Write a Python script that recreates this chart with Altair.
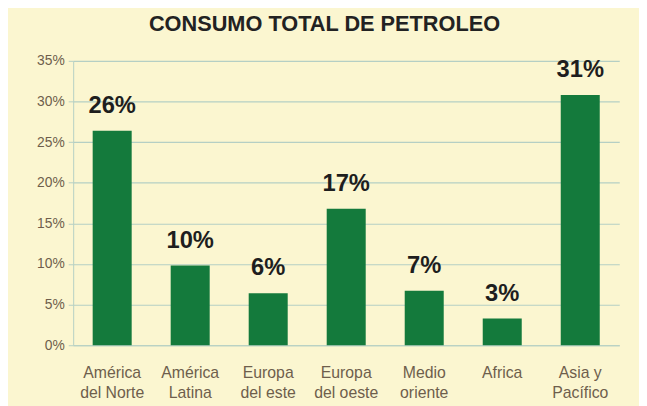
import altair as alt
import pandas as pd

categories = ["América\ndel Norte", "América\nLatina", "Europa\ndel este", "Europa\ndel oeste",
              "Medio\noriente", "Africa", "Asia y\nPacífico"]
values = [26.4, 9.8, 6.4, 16.8, 6.7, 3.3, 30.8]
labels = ["26%", "10%", "6%", "17%", "7%", "3%", "31%"]
y_ticks = [0, 5, 10, 15, 20, 25, 30, 35]

df = pd.DataFrame({"cat": categories, "val": values, "lab": labels})

BG = "#fbf6d0"
GRID = "#b5cfc4"
AXTXT = "#6e5e4c"

x = alt.X("cat:N", sort=categories, title=None,
          scale=alt.Scale(paddingInner=0.5, paddingOuter=0.25),
          axis=alt.Axis(labelAngle=0, labelExpr="split(datum.label, '\\n')",
                        labelFont="Liberation Sans", labelFontSize=16, labelColor=AXTXT,
                        labelLineHeight=20, labelPadding=20, domainColor=GRID, tickColor=GRID,
                        ticks=False))
y = alt.Y("val:Q", title=None,
          scale=alt.Scale(domain=[0, 35], nice=False),
          axis=alt.Axis(values=y_ticks, labelExpr="datum.value + '%'", grid=True,
                        gridColor=GRID, gridWidth=1.2, domainColor=GRID, tickColor=GRID,
                        tickSize=5, labelFont="Liberation Sans", labelFontSize=14,
                        labelColor=AXTXT, labelPadding=4))

bars = alt.Chart(df).mark_bar(color="#147a3c").encode(x=x, y=y)
text = alt.Chart(df).mark_text(dy=-13, baseline="bottom", font="Liberation Sans",
                               fontSize=24, fontWeight="bold", color="#1e1e1e").encode(
    x=alt.X("cat:N", sort=categories), y="val:Q", text="lab:N")

chart = (bars + text).properties(
    width=553, height=288,
    autosize=alt.AutoSizeParams(type="none"),
    padding={"left": 66, "top": 51, "right": 20, "bottom": 59},
    background=BG,
    title=alt.TitleParams("CONSUMO TOTAL DE PETROLEO", font="Liberation Sans", fontSize=22,
                          fontWeight="bold", color="#222222", anchor="middle", dx=-22, offset=18),
).configure_view(stroke=None)

chart.save("out.html", embed_options={"renderer": "svg", "actions": False})
